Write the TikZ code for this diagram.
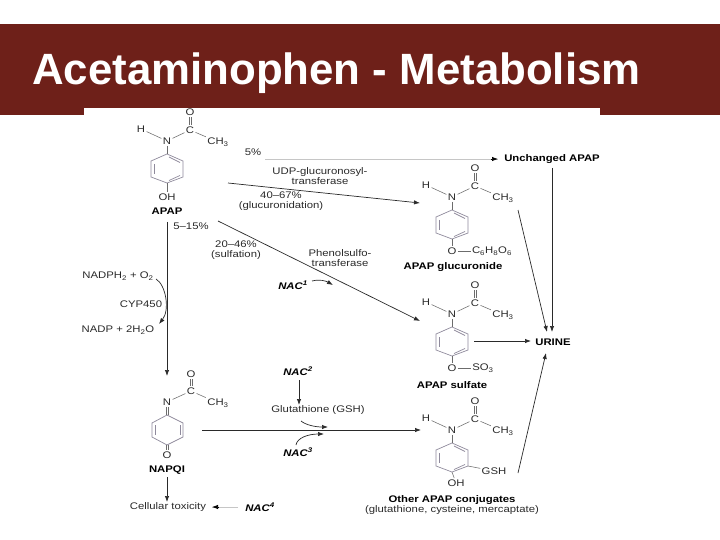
\documentclass[tikz,border=0pt]{standalone}
\usepackage{fontspec}
\usetikzlibrary{arrows.meta}
\setmainfont{Liberation Sans}
\newfontfamily\labf[FakeStretch=1.18]{Liberation Sans}
\definecolor{band}{HTML}{6E2019}
\definecolor{ringc}{HTML}{8F8A9C}
\definecolor{ink}{HTML}{2A2A2A}
\newcommand{\sbs}[1]{\textsubscript{#1}}
\newcommand{\sps}[1]{\textsuperscript{#1}}
\tikzset{
 lab/.style={font=\labf\fontsize{9.6}{10}\selectfont,text=ink,inner sep=0pt,outer sep=1.5pt,align=center},
 blab/.style={font=\labf\bfseries\fontsize{9.6}{10}\selectfont,text=black,inner sep=0pt,outer sep=1.5pt,align=center},
 nac/.style={font=\labf\bfseries\itshape\fontsize{9.6}{10}\selectfont,text=black,inner sep=0pt,outer sep=2pt},
 bond/.style={draw=gray!85!black,line width=0.55pt},
 ringb/.style={draw=ringc,line width=0.7pt},
 flow/.style={draw=ink,line width=0.7pt,-{Latex[length=6pt,width=4.4pt]}},
 lightflow/.style={draw=gray!45,line width=0.6pt},
}
% #1 prefix, #2 x of N, #3 y of N
\newcommand{\amide}[3]{%
 \begin{scope}[shift={(#2,#3)}]
  \node[lab] (#1N) at (0,0) {N};
  \node[lab] (#1H) at (-26,-12) {H};
  \node[lab] (#1C) at (23,-11) {C};
  \node[lab] (#1O) at (23,-29) {O};
  \node[lab] (#1M) at (51,1) {CH\sbs{3}};
  \draw[bond] (#1N) -- (#1H);
  \draw[bond] (#1N) -- (#1C);
  \draw[bond] (#1C) -- (#1M);
  \draw[bond] ([xshift=-1pt]#1C.north) -- ([xshift=-1pt]#1O.south);
  \draw[bond] ([xshift=1pt]#1C.north) -- ([xshift=1pt]#1O.south);
  \coordinate (#1a) at (0,13);
  \coordinate (#1b) at (16,20);
  \coordinate (#1c) at (16,36);
  \coordinate (#1d) at (0,42);
  \coordinate (#1e) at (-16,36);
  \coordinate (#1f) at (-16,20);
  \draw[ringb] (#1a)--(#1b)--(#1c)--(#1d)--(#1e)--(#1f)--cycle;
  \draw[ringb] (2,16)--(13,21.5);
  \draw[ringb] (13,34.5)--(2,39.5);
  \draw[ringb] (-13,23)--(-13,33);
  \draw[bond] (#1N) -- (#1a);
 \end{scope}}
\begin{document}
\begin{tikzpicture}[x=1pt,y=-1pt]
\useasboundingbox (0,0) rectangle (720,540);
\fill[white] (0,0) rectangle (720,540);
\fill[band] (0,24) rectangle (720,115);
\fill[white] (84,108) rectangle (600,115);
\node[font=\fontsize{43.8}{48}\selectfont\bfseries,text=white,inner sep=0pt,anchor=base west] (title) at (32,85) {Acetaminophen - Metabolism};

% APAP
\amide{p}{167}{141}
\node[lab] (pOH) at (167,197) {OH};
\draw[bond] (pd) -- (pOH);
\node[blab] (pl) at (167,211) {APAP};

% glucuronide
\amide{g}{452}{197}
\node[lab] (gO2) at (452,251) {O};
\node[lab] (gR) at (492,251) {C\sbs{6}H\sbs{8}O\sbs{6}};
\draw[bond] (gd) -- (gO2);
\draw[bond] (gO2) -- (gR);
\node[blab] (gl) at (453,267) {APAP glucuronide};

% sulfate
\amide{s}{452}{314}
\node[lab] (sO2) at (452,368) {O};
\node[lab] (sR) at (483,368) {SO\sbs{3}};
\draw[bond] (sd) -- (sO2);
\draw[bond] (sO2) -- (sR);
\node[blab] (sl) at (452,385) {APAP sulfate};

% other conjugates
\amide{o}{452}{430}
\node[lab] (oOH) at (456,483) {OH};
\node[lab] (oG) at (494,471) {GSH};
\draw[bond] (od) -- (oOH);
\draw[bond] (oc) -- (oG);
\node[blab] (ol) at (452,500) {Other APAP conjugates};
\node[lab] (ol2) at (452,510) {(glutathione, cysteine, mercaptate)};

% NAPQI
\node[lab] (qN) at (167,402) {N};
\node[lab] (qC) at (191,391) {C};
\node[lab] (qO) at (191,374) {O};
\node[lab] (qM) at (218,403) {CH\sbs{3}};
\draw[bond] (qN) -- (qC);
\draw[bond] (qC) -- (qM);
\draw[bond] ([xshift=-1pt]qC.north) -- ([xshift=-1pt]qO.south);
\draw[bond] ([xshift=1pt]qC.north) -- ([xshift=1pt]qO.south);
\coordinate (qa) at (167,415);
\coordinate (qb) at (183,423);
\coordinate (qc) at (183,437);
\coordinate (qd) at (167,445);
\coordinate (qe) at (152,437);
\coordinate (qf) at (152,423);
\draw[ringb] (qa)--(qb)--(qc)--(qd)--(qe)--(qf)--cycle;
\draw[ringb] (180,425)--(180,435);
\draw[ringb] (155,425)--(155,435);
\draw[bond] ([xshift=-1pt]qN.south) -- ([xshift=-1pt]qa);
\draw[bond] ([xshift=1pt]qN.south) -- ([xshift=1pt]qa);
\node[lab] (qO2) at (167,455) {O};
\draw[bond] ([xshift=-1pt]qd) -- ([xshift=-1pt]qO2.north);
\draw[bond] ([xshift=1pt]qd) -- ([xshift=1pt]qO2.north);
\node[blab] (ql) at (167,470) {NAPQI};

% labels
\node[lab] (t5) at (253,152) {5\%};
\node[blab] (un) at (552,159) {Unchanged APAP};
\node[lab] (udp) at (320,176) {UDP-glucuronosyl-\\transferase};
\node[lab] (t40) at (281,201.5) {40–67\%\\(glucuronidation)};
\node[lab] (t515) at (191,226) {5–15\%};
\node[lab] (t20) at (236,250) {20–46\%\\(sulfation)};
\node[lab] (phe) at (340,258.5) {Phenolsulfo-\\transferase};
\node[nac] (n1) at (293,285) {NAC\sps{1}};
\node[lab] (nadph) at (118,276) {NADPH\sbs{2} + O\sbs{2}};
\node[lab] (cyp) at (141,304) {CYP450};
\node[lab] (nadp) at (118,330) {NADP + 2H\sbs{2}O};
\node[blab] (ur) at (553,342) {URINE};
\node[nac] (n2) at (298,371) {NAC\sps{2}};
\node[lab] (glu) at (318,410) {Glutathione (GSH)};
\node[nac] (n3) at (298,452) {NAC\sps{3}};
\node[lab] (cell) at (168,507) {Cellular toxicity};
\node[nac] (n4) at (260,507) {NAC\sps{4}};

% free ends
\coordinate (a1) at (265,159);
\coordinate (a1e) at (498,159);
\coordinate (a2) at (228,183);
\coordinate (a3) at (420,203);
\coordinate (a4) at (218,221);
\coordinate (a5) at (420,321);
\coordinate (a6) at (518,210);
\coordinate (a7) at (547,332);
\coordinate (a8) at (474,341);
\coordinate (a8e) at (531,341);
\coordinate (a9) at (518,473);
\coordinate (a9e) at (546,353);
\coordinate (a10) at (202,430);
\coordinate (a11) at (421,430);
\coordinate (a12) at (167,222);
\coordinate (a13) at (167,376);
\coordinate (u1) at (552,168);
\coordinate (u2) at (552,332);
\coordinate (q1) at (167,477);
\coordinate (q2) at (167,502);
\coordinate (c1) at (238,507);
\coordinate (c2) at (212,507);
\coordinate (g1) at (299,380);
\coordinate (g2) at (299,405);
\coordinate (e1) at (156,279);
\coordinate (e2) at (159,324);
\coordinate (k1) at (312,281);
\coordinate (k2) at (333,285);
\coordinate (h1) at (301,421);
\coordinate (h2) at (328,427);
\coordinate (m1) at (296,445);
\coordinate (m2) at (324,434);

% connectors
\draw[lightflow] (a1) -- (a1e);
\draw[flow,draw=black] ([xshift=-7pt]a1e) -- (a1e);
\draw[flow] (a2) -- (a3);
\draw[flow] (a4) -- (a5);
\draw[flow] (a6) -- (a7);
\draw[flow] (u1) -- (u2);
\draw[flow] (a8) -- (a8e);
\draw[flow] (a9) -- (a9e);
\draw[flow] (a12) -- (a13);
\draw[flow] (a10) -- (a11);
\draw[flow] (q1) -- (q2);
\draw[lightflow] (c1) -- (c2);
\draw[flow,draw=black] ([xshift=7pt]c2) -- (c2);
\draw[flow] (g1) -- (g2);
\draw[flow] (e1) .. controls (166,285) and (170,310) .. (e2);
\draw[flow] (k1) .. controls (320,279) and (326,281) .. (k2);
\draw[flow] (h1) .. controls (306,425) and (315,427) .. (h2);
\draw[flow] (m1) .. controls (297,438) and (308,434) .. (m2);
\end{tikzpicture}
\end{document}
